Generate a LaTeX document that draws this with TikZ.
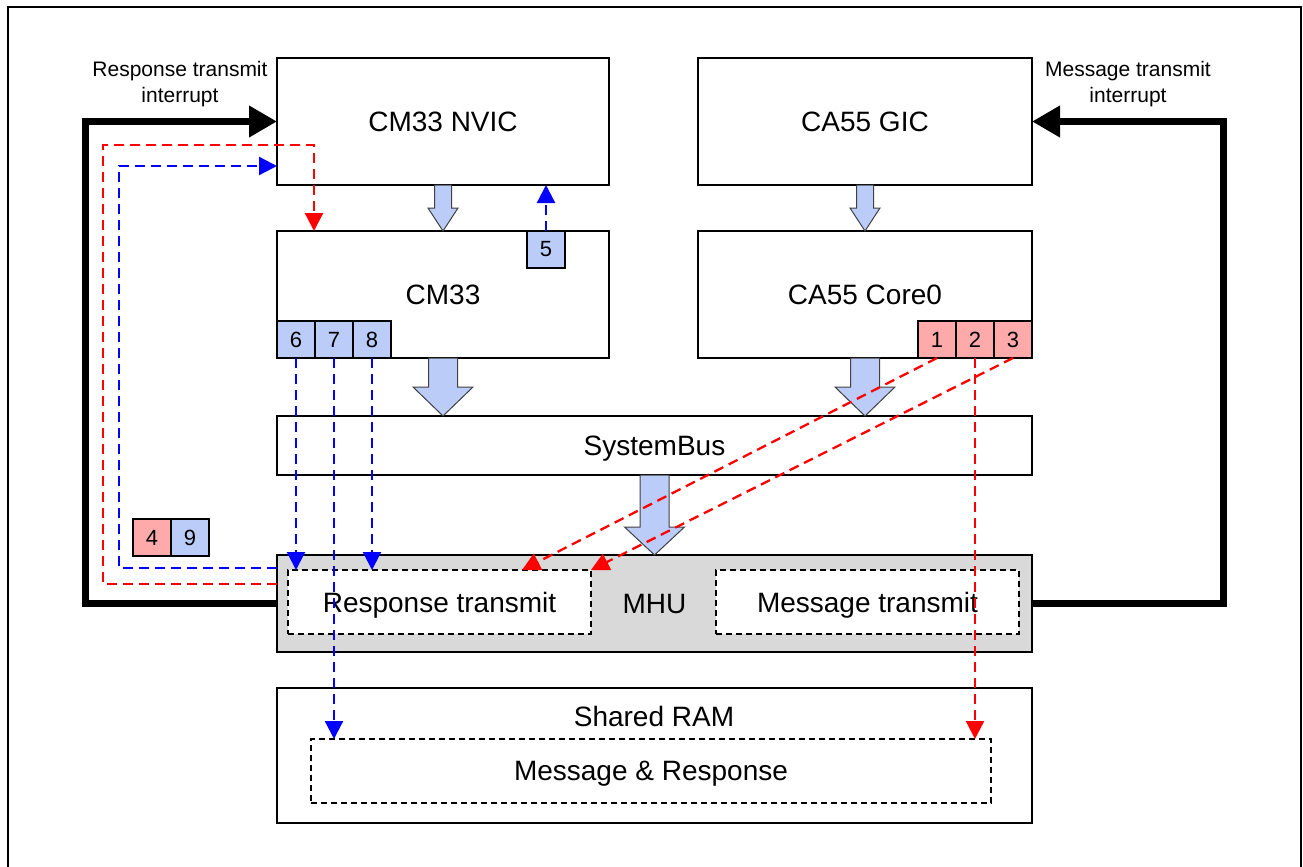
\documentclass[tikz,border=0pt]{standalone}
\usepackage{fontspec}
\setmainfont{Liberation Sans}
\usepackage{tikz}
\usetikzlibrary{arrows.meta,positioning,calc}
\definecolor{msgred}{RGB}{255, 0, 0}
\definecolor{rspblue}{RGB}{0, 0, 255}
\definecolor{pinkfill}{RGB}{255, 170, 170}
\definecolor{bluefill}{RGB}{187, 204, 248}
\definecolor{mhugray}{RGB}{217, 217, 217}
\definecolor{edgegray}{RGB}{64, 64, 64}

\tikzset{
  unitbox/.style={draw, line width=0.8pt, fill=white, outer sep=0pt, text depth=0pt,
    font=\fontsize{14}{17}\selectfont},
  subbox/.style={draw, dash pattern=on 3pt off 2pt, line width=0.7pt, fill=white,
    outer sep=0pt, text depth=0pt, font=\fontsize{14}{17}\selectfont},
  numbox/.style={draw, line width=0.7pt, minimum width=19pt, minimum height=18.5pt,
    inner sep=0pt, outer sep=0pt, font=\fontsize{11}{13}\selectfont},
  redbox/.style={numbox, fill=pinkfill},
  bluebox/.style={numbox, fill=bluefill},
  redflow/.style={msgred, line width=1.15pt, dash pattern=on 5pt off 3pt,
    -{Triangle[length=9pt,width=9pt]}},
  blueflow/.style={rspblue, line width=1.15pt, dash pattern=on 5pt off 3pt,
    -{Triangle[length=9pt,width=9pt]}},
  intarrow/.style={line width=3.5pt, -{Triangle[length=14pt,width=15pt]}},
  fatarr/.style={fill=bluefill, draw=edgegray, line width=0.5pt, line join=miter},
  irqlabel/.style={align=center, font=\fontsize{10.5}{13}\selectfont}
}

% block arrow: start, end, half shaft, half head, head length
\newcommand{\fatarrow}[5]{%
  \draw[fatarr] let \p1=#1, \p2=#2 in
    (\x1-#3,\y1) -- (\x1-#3,\y2+#5) -- (\x1-#4,\y2+#5) -- (\x1,\y2)
    -- (\x1+#4,\y2+#5) -- (\x1+#3,\y2+#5) -- (\x1+#3,\y1) -- cycle;}

\begin{document}
\begin{tikzpicture}[x=0.5pt, y=-0.5pt]
    \clip (0,0) rectangle (1303,867);
    % outer frame
    \draw[line width=1pt] (8,880) -- (8,6.5) -- (1301,6.5) -- (1301,880);

    % interrupt controllers and cores
    \node[unitbox, minimum width=166pt, minimum height=63.5pt] (nvic) at (443,121.5) {CM33 NVIC};
    \node[unitbox, minimum width=166pt, minimum height=63.5pt] (cm33) at (443,294.5) {CM33};
    \node[unitbox, minimum width=167pt, minimum height=63.5pt] (gic) at (865,121.5) {CA55 GIC};
    \node[unitbox, minimum width=167pt, minimum height=63.5pt] (core) at (865,294.5) {CA55 Core0};

    % bus, MHU and RAM
    \node[unitbox, minimum width=377.5pt, minimum height=29.5pt] (sysbus) at (654.5,445.5) {SystemBus};
    \node[unitbox, fill=mhugray, minimum width=377.5pt, minimum height=48.5pt] (mhu) at (654.5,603.5) {MHU};
    \node[subbox, minimum width=151.5pt, minimum height=32pt] (resp) at (439.5,602) {Response transmit};
    \node[subbox, minimum width=151.5pt, minimum height=32pt] (msg) at (867.5,602) {Message transmit};
    \node[unitbox, minimum width=377.5pt, minimum height=67.5pt] (ram) at (654.5,755.5) {};
    \node[font=\fontsize{14}{17}\selectfont, text depth=0pt] (ramtxt) at (654,716) {Shared RAM};
    \node[subbox, minimum width=340pt, minimum height=32pt] (shared) at (651,771) {Message \& Response};

    % step numbers
    \node[redbox, anchor=south east] (r3) at (core.south east) {3};
    \node[redbox, left=0pt of r3] (r2) {2};
    \node[redbox, left=0pt of r2] (r1) {1};
    \node[bluebox, anchor=south west] (b6) at (cm33.south west) {6};
    \node[bluebox, right=0pt of b6] (b7) {7};
    \node[bluebox, right=0pt of b7] (b8) {8};
    \node[bluebox, anchor=north] (b5) at (546,231) {5};
    \node[redbox, anchor=north west] (r4) at (133,519) {4};
    \node[bluebox, right=0pt of r4] (b9) {9};

    % data paths
    \fatarrow{(nvic.south)}{(cm33.north)}{4.25pt}{7.5pt}{11.5pt}
    \fatarrow{(gic.south)}{(core.north)}{4.25pt}{7.5pt}{11.5pt}
    \fatarrow{(cm33.south)}{(sysbus.north)}{7.25pt}{15pt}{14.5pt}
    \fatarrow{(core.south)}{(sysbus.north)}{7.25pt}{15pt}{14.5pt}
    \fatarrow{(sysbus.south)}{(mhu.north)}{7.25pt}{15pt}{14pt}

    % interrupts
    \draw[intarrow] (mhu.west) -- ++(-192,0) |- (nvic.west);
    \draw[intarrow] (mhu.east) -- ++(191,0) |- (gic.east);
    \node[irqlabel] (rspirq) at (180,84) {Response transmit\\interrupt};
    \node[irqlabel] (msgirq) at (1128,84) {Message transmit\\interrupt};

    % message flow (CA55)
    \draw[redflow] (r1.south) -- ($(resp.north)+(82.5,0)$);
    \draw[redflow] (r2.south) -- (r2.south |- shared.north);
    \draw[redflow] (r3.south) -- (resp.north east);
    \draw[redflow] ($(mhu.north west)+(0,29)$) -- ++(-174,0) |- ($(cm33.north west)+(37,-86)$)
        -- ($(cm33.north west)+(37,0)$);

    % response flow (CM33)
    \draw[blueflow] (b5.north) -- (b5.north |- nvic.south);
    \draw[blueflow] (b6.south) -- (b6.south |- resp.north);
    \draw[blueflow] (b7.south) -- (b7.south |- shared.north);
    \draw[blueflow] (b8.south) -- (b8.south |- resp.north);
    \draw[blueflow] ($(mhu.north west)+(0,13)$) -- ++(-158,0) |- ($(nvic.south west)+(0,-19)$);
\end{tikzpicture}
\end{document}
